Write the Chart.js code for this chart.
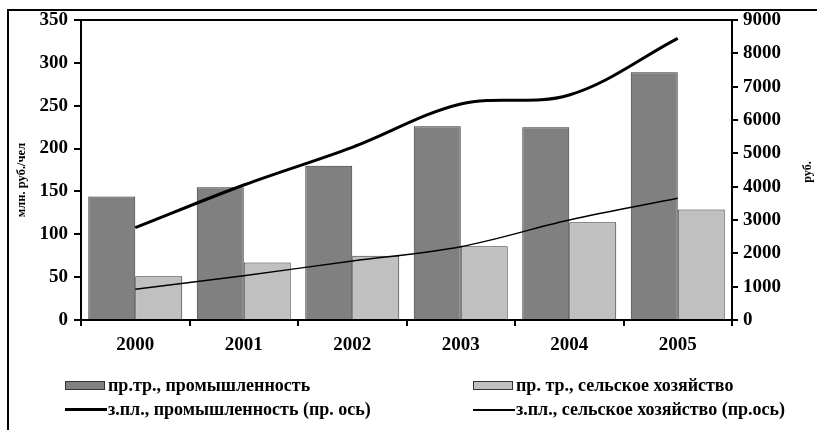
<!DOCTYPE html>
<html>
<head>
<meta charset="utf-8">
<script src="https://cdn.jsdelivr.net/npm/chart.js@4"></script>
<style>
  html,body{margin:0;padding:0;background:#fff;}
  #wrap{position:relative;width:817px;height:430px;overflow:hidden;background:#fff;}
  #c{position:absolute;left:0;top:0;}
  #frame{position:absolute;left:7px;top:9px;width:830px;height:440px;border-left:2px solid #000;border-top:2px solid #000;pointer-events:none;}
  .t{position:absolute;font-family:"Liberation Serif","Times New Roman",serif;font-weight:bold;color:#000;white-space:nowrap;}
  .ytitle{font-size:12.5px;transform-origin:center center;transform:translate(-50%,-50%) rotate(-90deg);}
  .leg{font-size:18px;line-height:18px;transform:translateY(-50%);}
  .box{position:absolute;width:38px;height:7px;border:1px solid #333;}
  .ln{position:absolute;width:42px;background:#000;}
</style>
</head>
<body>
<div id="wrap">
  <canvas id="c" width="817" height="430"></canvas>
  <div id="frame"></div>
  <div class="t ytitle" id="lt" style="left:21px;top:180px;">млн. руб./чел</div>
  <div class="t ytitle" id="rt" style="left:807px;top:172px;font-size:12px;">руб.</div>
  <div class="box" style="left:65px;top:381px;background:#808080;"></div>
  <div class="t leg" id="l1" style="left:108px;top:385px;">пр.тр., промышленность</div>
  <div class="box" style="left:473px;top:381px;background:#c0c0c0;"></div>
  <div class="t leg" id="l2" style="left:516px;top:385px;">пр. тр., сельское хозяйство</div>
  <div class="ln" style="left:65px;top:408px;height:3px;"></div>
  <div class="t leg" id="l3" style="left:108px;top:409px;">з.пл., промышленность (пр. ось)</div>
  <div class="ln" style="left:473px;top:409px;height:1.5px;"></div>
  <div class="t leg" id="l4" style="left:516px;top:409px;">з.пл., сельское хозяйство (пр.ось)</div>
</div>
<script>
const years = ['2000','2001','2002','2003','2004','2005'];
const prodIndustry = [144, 155, 180, 226, 225, 289];
const prodAgri = [51, 67, 75, 86, 114, 129];
const wageIndustry = [2770, 4050, 5180, 6480, 6750, 8450];
const wageAgri = [920, 1330, 1770, 2200, 3000, 3650];
const leftTicks = [0, 50, 100, 150, 200, 250, 300, 350];
const rightTicks = [0, 1000, 2000, 3000, 4000, 5000, 6000, 7000, 8000, 9000];

const FONT = {family: '"Liberation Serif","Times New Roman",serif', size: 19, weight: 'bold'};

const topBorder = {
  id: 'topBorder',
  afterDraw(chart) {
    const {ctx, chartArea: a} = chart;
    ctx.save();
    ctx.strokeStyle = '#000';
    ctx.lineWidth = 2;
    ctx.beginPath();
    ctx.moveTo(a.left - 1, a.top);
    ctx.lineTo(a.right + 1, a.top);
    ctx.stroke();
    ctx.restore();
  }
};

new Chart(document.getElementById('c'), {
  data: {
    labels: years,
    datasets: [
      {type: 'line', label: 'з.пл., промышленность (пр. ось)', data: wageIndustry, yAxisID: 'y1',
       borderColor: '#000', borderWidth: 3, pointRadius: 0, tension: 0.35, order: 0, fill: false},
      {type: 'line', label: 'з.пл., сельское хозяйство (пр.ось)', data: wageAgri, yAxisID: 'y1',
       borderColor: '#000', borderWidth: 1.5, pointRadius: 0, tension: 0.35, order: 1, fill: false},
      {type: 'bar', label: 'пр.тр., промышленность', data: prodIndustry, yAxisID: 'y',
       backgroundColor: '#808080', borderColor: '#333', borderWidth: 1, order: 2,
       categoryPercentage: 0.866, barPercentage: 1.0},
      {type: 'bar', label: 'пр. тр., сельское хозяйство', data: prodAgri, yAxisID: 'y',
       backgroundColor: '#c0c0c0', borderColor: '#333', borderWidth: 1, order: 3,
       categoryPercentage: 0.866, barPercentage: 1.0}
    ]
  },
  options: {
    responsive: false,
    animation: false,
    layout: {padding: {left: 0, right: 0, top: 20, bottom: 0}},
    plugins: {legend: {display: false}, tooltip: {enabled: false}},
    scales: {
      x: {
        offset: true,
        grid: {offset: true, drawOnChartArea: false, drawTicks: true, tickLength: 6, color: '#000', lineWidth: 2},
        border: {color: '#000', width: 2},
        ticks: {font: FONT, color: '#000', padding: 8, maxRotation: 0},
        afterFit(s) { s.height = 110; }
      },
      y: {
        position: 'left', min: 0, max: 350,
        afterBuildTicks(s) { s.ticks = leftTicks.map(v => ({value: v})); },
        grid: {drawOnChartArea: false, drawTicks: true, tickLength: 7, color: '#000', lineWidth: 2},
        border: {color: '#000', width: 2},
        ticks: {font: FONT, color: '#000', padding: 6, callback: v => String(v)},
        afterFit(s) { s.width = 81; }
      },
      y1: {
        position: 'right', min: 0, max: 9000,
        afterBuildTicks(s) { s.ticks = rightTicks.map(v => ({value: v})); },
        grid: {drawOnChartArea: false, drawTicks: true, tickLength: 6, color: '#000', lineWidth: 2},
        border: {color: '#000', width: 2},
        ticks: {font: FONT, color: '#000', padding: 5, callback: v => String(v)},
        afterFit(s) { s.width = 85; }
      }
    }
  },
  plugins: [topBorder]
});
</script>
</body>
</html>
